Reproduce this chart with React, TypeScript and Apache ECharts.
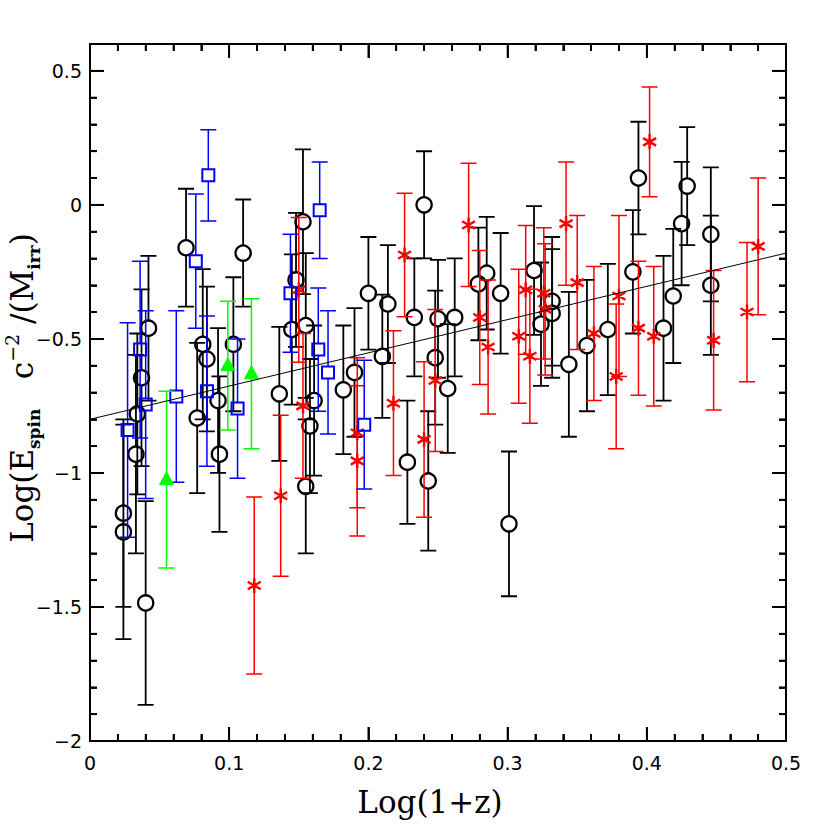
import React, { useEffect, useRef } from "react";
import * as echarts from "echarts";

// [log(1+z), value, error]
const blackCircles: number[][] = [
  [0.024, -1.15, 0.35], [0.024, -1.22, 0.40], [0.033, -0.93, 0.37], [0.034, -0.78, 0.30],
  [0.037, -0.645, 0.33], [0.040, -1.485, 0.38], [0.042, -0.46, 0.27], [0.069, -0.16, 0.22],
  [0.077, -0.795, 0.28], [0.081, -0.52, 0.28], [0.084, -0.575, 0.27], [0.092, -0.73, 0.27],
  [0.093, -0.93, 0.29], [0.103, -0.52, 0.25], [0.110, -0.18, 0.20], [0.136, -0.705, 0.25],
  [0.145, -0.465, 0.28], [0.148, -0.28, 0.25], [0.153, -0.063, 0.27], [0.155, -0.45, 0.27],
  [0.155, -1.05, 0.25], [0.158, -0.825, 0.25], [0.161, -0.73, 0.28], [0.182, -0.69, 0.24],
  [0.190, -0.625, 0.24], [0.200, -0.33, 0.21], [0.210, -0.565, 0.23], [0.214, -0.37, 0.22],
  [0.228, -0.96, 0.23], [0.233, -0.42, 0.22], [0.240, 0.0, 0.20], [0.243, -1.03, 0.26],
  [0.248, -0.57, 0.25], [0.250, -0.425, 0.22], [0.257, -0.685, 0.24], [0.262, -0.42, 0.22],
  [0.279, -0.295, 0.21], [0.285, -0.255, 0.21], [0.295, -0.33, 0.225], [0.301, -1.19, 0.27],
  [0.319, -0.245, 0.24], [0.324, -0.445, 0.23], [0.332, -0.36, 0.24], [0.332, -0.405, 0.24],
  [0.344, -0.595, 0.27], [0.357, -0.525, 0.245], [0.372, -0.465, 0.245], [0.390, -0.25, 0.23],
  [0.394, 0.10, 0.21], [0.412, -0.46, 0.27], [0.419, -0.34, 0.25], [0.425, -0.07, 0.23],
  [0.429, 0.07, 0.22], [0.446, -0.11, 0.25], [0.446, -0.30, 0.26],
];

const redStars: number[][] = [
  [0.118, -1.42, 0.33], [0.137, -1.085, 0.30], [0.150, -0.317, 0.27], [0.153, -0.75, 0.27],
  [0.192, -0.85, 0.28], [0.192, -0.955, 0.28], [0.218, -0.74, 0.27], [0.226, -0.187, 0.23],
  [0.240, -0.875, 0.29], [0.248, -0.655, 0.265], [0.272, -0.075, 0.23], [0.280, -0.42, 0.25],
  [0.286, -0.53, 0.25], [0.308, -0.49, 0.25], [0.313, -0.317, 0.24], [0.316, -0.565, 0.25],
  [0.326, -0.33, 0.245], [0.327, -0.39, 0.245], [0.342, -0.07, 0.23], [0.350, -0.29, 0.25],
  [0.362, -0.48, 0.25], [0.378, -0.64, 0.27], [0.380, -0.34, 0.30], [0.394, -0.46, 0.25],
  [0.402, 0.235, 0.205], [0.405, -0.49, 0.26], [0.448, -0.505, 0.26], [0.472, -0.40, 0.26],
  [0.480, -0.155, 0.255],
];

const blueSquares: number[][] = [
  [0.027, -0.84, 0.40], [0.036, -0.54, 0.33], [0.040, -0.745, 0.35], [0.062, -0.715, 0.32],
  [0.076, -0.21, 0.25], [0.084, -0.695, 0.28], [0.085, 0.11, 0.17], [0.106, -0.76, 0.26],
  [0.144, -0.33, 0.22], [0.164, -0.54, 0.23], [0.165, -0.02, 0.18], [0.171, -0.625, 0.23],
  [0.197, -0.82, 0.24],
];

const greenTriangles: number[][] = [
  [0.055, -1.025, 0.33], [0.099, -0.60, 0.24], [0.116, -0.63, 0.28],
];

const fitLine: number[][] = [[0, -0.80], [0.5, -0.18]];

// tick positions
const xMajorTicks = [0, 0.1, 0.2, 0.3, 0.4, 0.5];
const xMinorTicks = [
  0.02, 0.04, 0.06, 0.08, 0.12, 0.14, 0.16, 0.18, 0.22, 0.24, 0.26, 0.28,
  0.32, 0.34, 0.36, 0.38, 0.42, 0.44, 0.46, 0.48,
];
const yMajorTicks = [-2, -1.5, -1, -0.5, 0, 0.5];
const yMinorTicks = [
  -1.9, -1.8, -1.7, -1.6, -1.4, -1.3, -1.2, -1.1, -0.9, -0.8, -0.7, -0.6,
  -0.4, -0.3, -0.2, -0.1, 0.1, 0.2, 0.3, 0.4,
];

const xRange = { min: 0, max: 0.5, interval: 0.1, minorSplit: 5 };
const yRange = { min: -2, max: 0.6, major: 0.5, minor: 0.1 };

const MAJOR_LEN = 14;
const MINOR_LEN = 7;

type Kind = "circle" | "star" | "square" | "triangle";

const GAP: Record<Kind, number> = { circle: 8, square: 6, star: 0, triangle: 0 };
const CAP = 8;

function barSeries(data: number[][], kind: Kind, color: string, lw: number, upper: boolean) {
  return {
    type: "custom",
    data,
    silent: true,
    renderItem: (_p: any, api: any) => {
      const x = api.value(0);
      const y = api.value(1);
      const e = api.value(2);
      const c = api.coord([x, y]);
      const g = GAP[kind];
      const end = api.coord([x, upper ? y + e : y - e]);
      const near = upper ? c[1] - g : c[1] + g;
      return {
        type: "polyline",
        shape: { points: [[c[0] - CAP, end[1]], [c[0] + CAP, end[1]], [c[0], end[1]], [c[0], near]] },
        style: { stroke: color, lineWidth: lw, fill: "none", lineJoin: "bevel" },
      };
    },
  };
}

function markerSeries(data: number[][], kind: Kind, color: string) {
  return {
    type: "custom",
    data,
    silent: true,
    renderItem: (_p: any, api: any) => {
      const c = api.coord([api.value(0), api.value(1)]);
      if (kind === "circle") {
        return { type: "circle", shape: { cx: c[0], cy: c[1], r: 7.6 }, style: { fill: "none", stroke: color, lineWidth: 2.3 } };
      }
      if (kind === "square") {
        return { type: "rect", shape: { x: c[0] - 6, y: c[1] - 6, width: 12, height: 12 }, style: { fill: "none", stroke: color, lineWidth: 2 } };
      }
      if (kind === "triangle") {
        return { type: "polygon", shape: { points: [[c[0], c[1] - 8], [c[0] - 7, c[1] + 5], [c[0] + 7, c[1] + 5]] }, style: { fill: color, stroke: color, lineWidth: 1 } };
      }
      const r = 7.5;
      const dx = r * Math.cos(Math.PI / 6);
      const dy = r * Math.sin(Math.PI / 6);
      return {
        type: "polyline",
        shape: {
          points: [
            [c[0], c[1] - r], [c[0], c[1] + r], [c[0], c[1]],
            [c[0] + dx, c[1] - dy], [c[0] - dx, c[1] + dy], [c[0], c[1]],
            [c[0] - dx, c[1] - dy], [c[0] + dx, c[1] + dy],
          ],
        },
        style: { fill: "none", stroke: color, lineWidth: 2.4, lineJoin: "bevel" },
      };
    },
  };
}

function groupSeries(data: number[][], kind: Kind, color: string, lw: number) {
  return [
    barSeries(data, kind, color, lw, true),
    barSeries(data, kind, color, lw, false),
    markerSeries(data, kind, color),
  ];
}

const labelFont = { fontFamily: "DejaVu Sans", fontSize: 19, color: "#000" };
const minus = (v: number) => String(v).replace("-", "\u2212");

function xAxisDef(position: "bottom" | "top") {
  return {
    type: "value",
    position,
    min: xRange.min,
    max: xRange.max,
    interval: xRange.interval,
    axisLine: { show: true, onZero: false, lineStyle: { color: "#000", width: 2 } },
    axisTick: { show: true, inside: true, length: MAJOR_LEN, lineStyle: { color: "#000", width: 1.8 } },
    minorTick: { show: true, splitNumber: xRange.minorSplit, length: MINOR_LEN, lineStyle: { color: "#000", width: 1.8 } },
    axisLabel: { show: position === "bottom", margin: 12, ...labelFont, formatter: (v: number) => minus(v) },
    splitLine: { show: false },
    minorSplitLine: { show: false },
  };
}

function yAxisDef(position: "left" | "right", interval: number, tickLen: number, labels: boolean) {
  return {
    type: "value",
    position,
    min: yRange.min,
    max: yRange.max,
    interval,
    axisLine: { show: true, onZero: false, lineStyle: { color: "#000", width: 2 } },
    axisTick: { show: true, inside: true, length: tickLen, lineStyle: { color: "#000", width: 1.8 } },
    axisLabel: { show: labels, margin: 8, showMaxLabel: false, ...labelFont, formatter: (v: number) => minus(v) },
    splitLine: { show: false },
  };
}

const titleGraphics: any[] = [
  {
    type: "text",
    x: 430,
    y: 802,
    style: {
      text: "Log(1+z)",
      font: "31px 'DejaVu Serif'",
      fill: "#000",
      textAlign: "center",
      textVerticalAlign: "middle",
    },
  },
  {
    type: "text",
    x: 22,
    y: 388,
    rotation: Math.PI / 2,
    style: {
      text: "Log(E{sub|spin}   c{sup|\u22122} /(M{sub|irr})",
      fontFamily: "DejaVu Serif",
      fontSize: 31,
      lineHeight: 40,
      fill: "#000",
      textAlign: "center",
      textVerticalAlign: "middle",
      rich: {
        sub: { fontFamily: "DejaVu Serif", fontSize: 17, fontWeight: "bold", lineHeight: 16, verticalAlign: "bottom", fill: "#000" },
        sup: { fontFamily: "DejaVu Serif", fontSize: 19, lineHeight: 16, verticalAlign: "top", fill: "#000" },
      },
    },
  },
];

export default function App() {
  const ref = useRef<HTMLDivElement>(null);
  useEffect(() => {
    const chart = echarts.init(ref.current!, undefined, { renderer: "svg" });
    const option: any = {
      animation: false,
      grid: { left: 90, right: 44, top: 44, bottom: 89, containLabel: false },
      xAxis: [xAxisDef("bottom"), xAxisDef("top")],
      yAxis: [
        yAxisDef("left", yRange.major, MAJOR_LEN, true),
        yAxisDef("right", yRange.major, MAJOR_LEN, false),
        yAxisDef("left", yRange.minor, MINOR_LEN, false),
        yAxisDef("right", yRange.minor, MINOR_LEN, false),
      ],
      series: [
        { type: "line", data: fitLine, symbol: "none", lineStyle: { color: "#000", width: 1 }, silent: true },
        ...groupSeries(blackCircles, "circle", "#000", 1.8),
        ...groupSeries(redStars, "star", "#ff0000", 1.5),
        ...groupSeries(blueSquares, "square", "#0000ff", 1.5),
        ...groupSeries(greenTriangles, "triangle", "#00ff00", 1.5),
      ],
    };
    chart.setOption(option);

    // inward ticks on all four sides, positioned through the chart's own scales
    const tickEls: any[] = [];
    try {
      const px = (x: number, y: number) => chart.convertToPixel({ gridIndex: 0 } as any, [x, y]) as number[];
      const bottom = px(xRange.min, yRange.min)[1];
      const top = px(xRange.min, yRange.max)[1];
      const left = px(xRange.min, yRange.min)[0];
      const right = px(xRange.max, yRange.min)[0];
      const st = { stroke: "#000", lineWidth: 1.8 };
      const addX = (v: number, len: number) => {
        const X = px(v, yRange.min)[0];
        tickEls.push({ type: "line", z: 50, silent: true, shape: { x1: X, y1: bottom, x2: X, y2: bottom - len }, style: st });
        tickEls.push({ type: "line", z: 50, silent: true, shape: { x1: X, y1: top, x2: X, y2: top + len }, style: st });
      };
      const addY = (v: number, len: number) => {
        const Y = px(xRange.min, v)[1];
        tickEls.push({ type: "line", z: 50, silent: true, shape: { x1: left, y1: Y, x2: left + len, y2: Y }, style: st });
        tickEls.push({ type: "line", z: 50, silent: true, shape: { x1: right, y1: Y, x2: right - len, y2: Y }, style: st });
      };
      xMajorTicks.forEach((v) => addX(v, MAJOR_LEN));
      xMinorTicks.forEach((v) => addX(v, MINOR_LEN));
      yMajorTicks.forEach((v) => addY(v, MAJOR_LEN));
      yMinorTicks.forEach((v) => addY(v, MINOR_LEN));
    } catch (e) {
      // keep titles even if tick conversion fails
    }
    chart.setOption({ graphic: [...titleGraphics, ...tickEls] });
    return () => chart.dispose();
  }, []);
  return (
    <div
      ref={ref}
      style={{ position: "fixed", left: 0, top: 0, width: 830, height: 830, background: "#fff" }}
    />
  );
}
